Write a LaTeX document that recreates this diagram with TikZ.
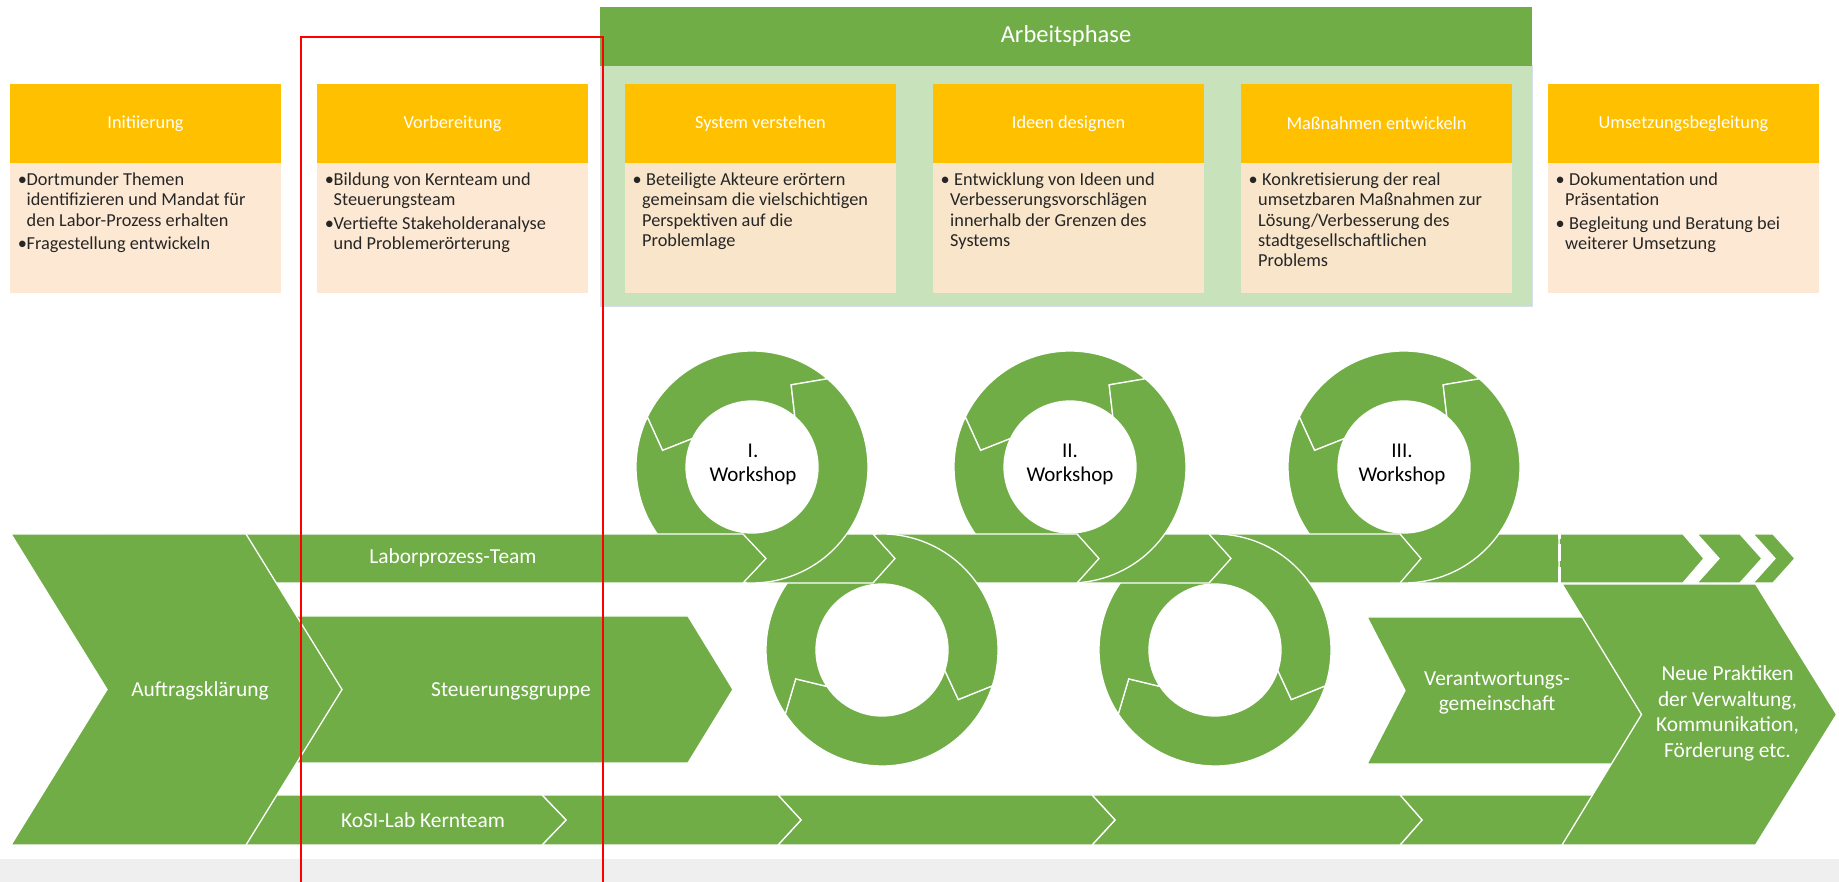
\documentclass[tikz,border=0pt]{standalone}
\usepackage{fontspec}
\setmainfont{Carlito}

\definecolor{gruen}{HTML}{70AD47}
\definecolor{hellgruen}{HTML}{C8E2BB}
\definecolor{gold}{HTML}{FFC000}
\definecolor{pfirsich}{HTML}{FDE9D3}
\definecolor{pfirsichB}{HTML}{F8E5CA}
\definecolor{grau}{HTML}{EFEFEF}
\definecolor{rahmen}{HTML}{D6E0EA}
\definecolor{schrift}{HTML}{262626}

% Pfeilstück: links, Kerbe, rechts, Spitze, unten, oben
\newcommand{\chev}[6]{\filldraw[form] (#1,#6) -- (#3,#6) -- (#4,{(#5+#6)/2}) -- (#3,#5) -- (#1,#5) -- (#2,{(#5+#6)/2}) -- cycle;}
\newcommand{\laborteil}[4]{\chev{#1}{#2}{#3}{#4}{299}{348}}
\newcommand{\kernteil}[4]{\chev{#1}{#2}{#3}{#4}{37}{87}}

% Ringstück: Mitte, Anfang, Ende, Kerbe, Spitze
\newcommand{\ringseg}[5]{\filldraw[form, shift={(#1)}] (#2:116) arc[start angle=#2, end angle=#3, radius=116] -- (#5:91) -- (#3:66) arc[start angle=#3, end angle=#2, radius=66] -- (#4:91) -- cycle;}
\newcommand{\ringoben}[1]{\ringseg{#1}{49.5}{154.5}{64.5}{169.5}\ringseg{#1}{154.5}{409.5}{169.5}{424.5}}
\newcommand{\ringunten}[1]{\ringseg{#1}{213.5}{342}{198.5}{327}\ringseg{#1}{342}{573.5}{327}{558.5}}

% Aufzählungszeichen
\newcommand{\punkt}{\makebox[8.5pt][c]{\textbullet}}
\newcommand{\einr}{\hspace*{8.5pt}}
\newcommand{\punktb}{\makebox[8pt][c]{\textbullet}\hspace{5pt}}
\newcommand{\einrb}{\hspace*{9pt}}

\begin{document}
\begin{tikzpicture}[x=1pt, y=1pt,
    form/.style={fill=gruen, draw=white, line width=1.3pt},
    kopf/.style={fill=gold, text=white, minimum width=271pt, minimum height=79pt, inner sep=0pt, font=\fontsize{18.3}{22}\selectfont},
    koerper/.style={anchor=north west, align=left, inner sep=0pt, text=schrift, font=\fontsize{18.3}{20.3}\selectfont},
    beschr/.style={text=white, align=center, inner sep=0pt, font=\fontsize{21.4}{25.8}\selectfont},
    werk/.style={text=black, align=center, inner sep=0pt, font=\fontsize{21}{24.5}\selectfont}]

    \useasboundingbox (0,0) rectangle (1839,882);

    % Streifen unten
    \fill[grau] (0,0) rectangle (1839,23);

    % Arbeitsphase
    \filldraw[fill=hellgruen, draw=rahmen, line width=1pt] (600,575) rectangle (1532,816);
    \fill[gruen] (600,816) rectangle (1532,875);
    \node[text=white, font=\fontsize{24.5}{29}\selectfont] (arbeit) at (1066,846) {Arbeitsphase};

    % Phasen oben
    \foreach \x/\t/\c [count=\i] in {10/Initiierung/pfirsich, 317/Vorbereitung/pfirsich,
        625/System verstehen/pfirsichB, 933/Ideen designen/pfirsichB,
        1241/Maßnahmen entwickeln/pfirsichB, 1548/Umsetzungsbegleitung/pfirsich}{
        \fill[\c] (\x,589) rectangle ++(271,130);
        \node[kopf] (kopf\i) at (\x+135.5,758.5) {\t};
    }

    \node[koerper] (text1) at (18,710.5) {\rule{0pt}{14pt}\punkt Dortmunder Themen\\ \einr identifizieren und Mandat für\\ \einr den Labor-Prozess erhalten\\[3pt] \punkt Fragestellung entwickeln};
    \node[koerper] (text2) at (325,710.5) {\rule{0pt}{14pt}\punkt Bildung von Kernteam und\\ \einr Steuerungsteam\\[3pt] \punkt Vertiefte Stakeholderanalyse\\ \einr und Problemerörterung};
    \node[koerper] (text3) at (633,710.5) {\rule{0pt}{14pt}\punktb Beteiligte Akteure erörtern\\ \einrb gemeinsam die vielschichtigen\\ \einrb Perspektiven auf die\\ \einrb Problemlage};
    \node[koerper] (text4) at (941,710.5) {\rule{0pt}{14pt}\punktb Entwicklung von Ideen und\\ \einrb Verbesserungsvorschlägen\\ \einrb innerhalb der Grenzen des\\ \einrb Systems};
    \node[koerper] (text5) at (1249,710.5) {\rule{0pt}{14pt}\punktb Konkretisierung der real\\ \einrb umsetzbaren Maßnahmen zur\\ \einrb Lösung/Verbesserung des\\ \einrb stadtgesellschaftlichen\\ \einrb Problems};
    \node[koerper] (text6) at (1556,710.5) {\rule{0pt}{14pt}\punktb Dokumentation und\\ \einrb Präsentation\\[3pt] \punktb Begleitung und Beratung bei\\ \einrb weiterer Umsetzung};

    % Laborprozess-Team mit Ringen, von rechts nach links
    \laborteil{1753}{1775}{1773}{1795}
    \laborteil{1697}{1719}{1740}{1762}
    \laborteil{1559}{1559}{1683}{1704}
    \laborteil{1400}{1421}{1559}{1559}
    \ringoben{1404,415}
    \laborteil{1209}{1231}{1400}{1421}
    \ringunten{1215,232}
    \laborteil{1077}{1099}{1209}{1231}
    \ringoben{1070,415}
    \laborteil{873}{895}{1077}{1099}
    \ringunten{882,232}
    \laborteil{743}{766}{873}{895}
    \ringoben{752,415}
    \laborteil{100}{100}{743}{766}
    \draw[white, line width=3pt, dash pattern=on 5pt off 5pt on 17pt off 6pt on 16pt] (1559,348) -- (1559,299);

    % KoSI-Lab Kernteam
    \kernteil{1400}{1422}{1700}{1700}
    \kernteil{1092}{1115}{1400}{1422}
    \kernteil{778}{801}{1092}{1115}
    \kernteil{542}{566}{778}{801}
    \kernteil{100}{100}{542}{566}

    % Steuerungsgruppe und Auftragsklärung
    \filldraw[form] (200,266) -- (688,266) -- (733,192.5) -- (688,119) -- (200,119) -- cycle;
    \filldraw[form] (11,348) -- (246,348) -- (342,192.5) -- (246,37) -- (11,37) -- (107,192.5) -- cycle;

    % Verantwortungsgemeinschaft und neue Praktiken
    \filldraw[form] (1367,265) -- (1650,265) -- (1650,118) -- (1367,118) -- (1405,191.5) -- cycle;
    \filldraw[form] (1562,298) -- (1755.6,298) -- (1836.6,167.5) -- (1755.6,37) -- (1562,37) -- (1641.5,167.5) -- cycle;

    % Beschriftungen
    \node[beschr] (labor) at (453,324) {Laborprozess-Team};
    \node[beschr] (kern) at (423,62) {KoSI-Lab Kernteam};
    \node[beschr] (auftrag) at (200,191) {Auftragsklärung};
    \node[beschr] (steuer) at (511,191) {Steuerungsgruppe};
    \node[beschr] (verant) at (1497,189) {Verantwortungs-\\gemeinschaft};
    \node[beschr] (neue) at (1727.5,168.5) {Neue Praktiken\\der Verwaltung,\\Kommunikation,\\Förderung etc.};
    \node[werk] (ws1) at (753,417.5) {I.\\Workshop};
    \node[werk] (ws2) at (1070,417.5) {II.\\Workshop};
    \node[werk] (ws3) at (1402,417.5) {III.\\Workshop};

    % Markierung
    \draw[red, line width=2.2pt] (301,-10) |- (603,845) -- (603,-10);
\end{tikzpicture}
\end{document}
